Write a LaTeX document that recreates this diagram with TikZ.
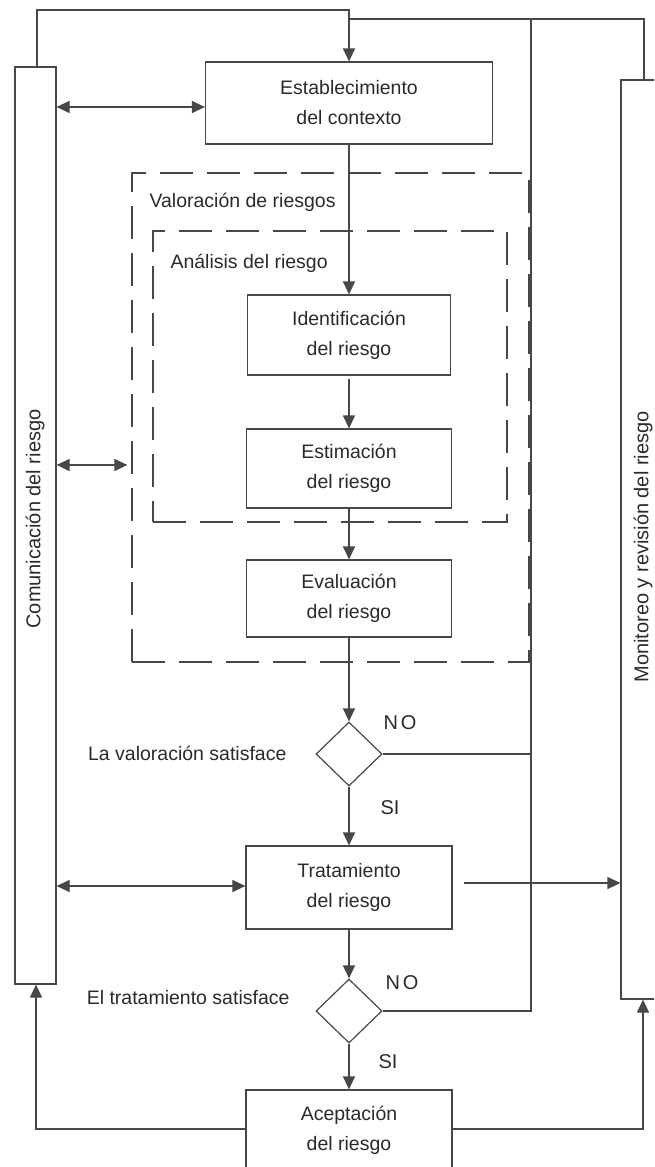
\documentclass[tikz,border=0pt]{standalone}
\usepackage{fontspec}
\setmainfont{Liberation Sans}
\usetikzlibrary{arrows.meta,shapes.geometric}
\definecolor{ink}{HTML}{474747}
\definecolor{txt}{HTML}{2A2A2A}
\begin{document}
\begin{tikzpicture}[x=1pt,y=-1pt,
  every node/.style={font=\fontsize{19.5}{30}\selectfont, text=txt},
  box/.style={draw=ink, line width=1.2pt, rectangle, inner sep=0pt, align=center},
  bar/.style={draw=ink, line width=1.2pt, rectangle, inner sep=0pt, minimum width=41pt},
  zone/.style={draw=ink, line width=1.2pt, dash pattern=on 33pt off 14pt, rectangle, inner sep=0pt},
  decision/.style={draw=ink, line width=1.2pt, diamond, aspect=1, inner sep=0pt, minimum width=66pt, minimum height=64pt},
  link/.style={draw=ink, line width=1.2pt},
  tip/.style={link, -{Triangle[length=13pt,width=12pt]}},
  both/.style={link, {Triangle[length=13pt,width=12pt]}-{Triangle[length=13pt,width=12pt]}},
  tag/.style={font=\fontsize{20}{24}\selectfont},
  bartext/.style={rotate=90, font=\fontsize{20}{24}\selectfont}
]
\useasboundingbox (0,0) rectangle (654,1167);
\clip (0,0) rectangle (654,1167);

% side bars
\node[bar, minimum height=917pt] (comm) at (35.5,525.5) {};
\node[bartext] (commtxt) at (35,519) {Comunicación del riesgo};
\node[bar, minimum height=919pt] (mon) at (641.5,539.5) {};
\node[bartext] (montxt) at (643,547) {Monitoreo y revisión del riesgo};

% main flow
\node[box, minimum width=287pt, minimum height=82pt] (est) at (349,103) {Establecimiento\\del contexto};
\node[zone, minimum width=397pt, minimum height=489pt] (valz) at (330.5,417.5) {};
\node[zone, minimum width=354pt, minimum height=291pt] (anaz) at (330,376.5) {};
\node[anchor=west] (valtxt) at (146,202) {Valoración de riesgos};
\node[anchor=west] (anatxt) at (167,263) {Análisis del riesgo};
\node[box, minimum width=203pt, minimum height=80pt] (ident) at (349,335) {Identificación\\del riesgo};
\node[box, minimum width=205pt, minimum height=79pt] (estim) at (349,468.5) {Estimación\\del riesgo};
\node[box, minimum width=205pt, minimum height=77pt] (eval) at (349,598.5) {Evaluación\\del riesgo};
\node[decision] (d1) at (349,754) {};
\node[anchor=east] (q1) at (290,753) {La valoración satisface};
\node[box, minimum width=206pt, minimum height=83pt] (trat) at (349,887.5) {Tratamiento\\del riesgo};
\node[decision] (d2) at (349,1011) {};
\node[anchor=east] (q2) at (293,998) {El tratamiento satisface};
\node[box, minimum width=206pt, minimum height=80pt] (acep) at (349,1130) {Aceptación\\del riesgo};

% answers
\node[tag] (no1) at (400,723) {N\kern3pt O};
\node[tag] (si1) at (390,808) {SI};
\node[tag] (no2) at (402,983) {N\kern3pt O};
\node[tag] (si2) at (388,1062) {SI};

% bend points
\coordinate (topL) at (37,10);
\coordinate (topR) at (644,19);
\coordinate (ret) at (531,19);
\coordinate (bl) at (36,1129);
\coordinate (br) at (643,1129);
\coordinate (h1) at (0,107);
\coordinate (h2) at (0,465);
\coordinate (h3) at (0,886);
\coordinate (h4) at (0,883);

% feedback and monitoring lines
\draw[tip] (comm.north -| topL) -- (topL) -- (topL -| est.north) -- (est.north);
\draw[link] (est.north |- topR) -- (topR) -- (topR |- mon.north);
\draw[link] (d2.east) -- (d2.east -| ret) -- (ret);
\draw[link] (d1.east) -- (d1.east -| ret);

% communication links
\draw[both] (comm.east |- h1) -- (est.west |- h1);
\draw[both, shorten >=4pt] (comm.east |- h2) -- (valz.west |- h2);
\draw[both] (comm.east |- h3) -- (trat.west |- h3);
\draw[tip, shorten <=11pt] (trat.east |- h4) -- (mon.west |- h4);

% process arrows
\draw[tip] (est.south) -- (ident.north);
\draw[tip, shorten <=3pt] (ident.south) -- (estim.north);
\draw[tip] (estim.south) -- (eval.north);
\draw[tip] (eval.south) -- (d1.north);
\draw[tip] (d1.south) -- (trat.north);
\draw[tip] (trat.south) -- (d2.north);
\draw[tip] (d2.south) -- (acep.north);
\draw[tip] (acep.west |- bl) -- (bl) -- (bl |- comm.south);
\draw[tip] (acep.east |- br) -- (br) -- (br |- mon.south);
\end{tikzpicture}
\end{document}
